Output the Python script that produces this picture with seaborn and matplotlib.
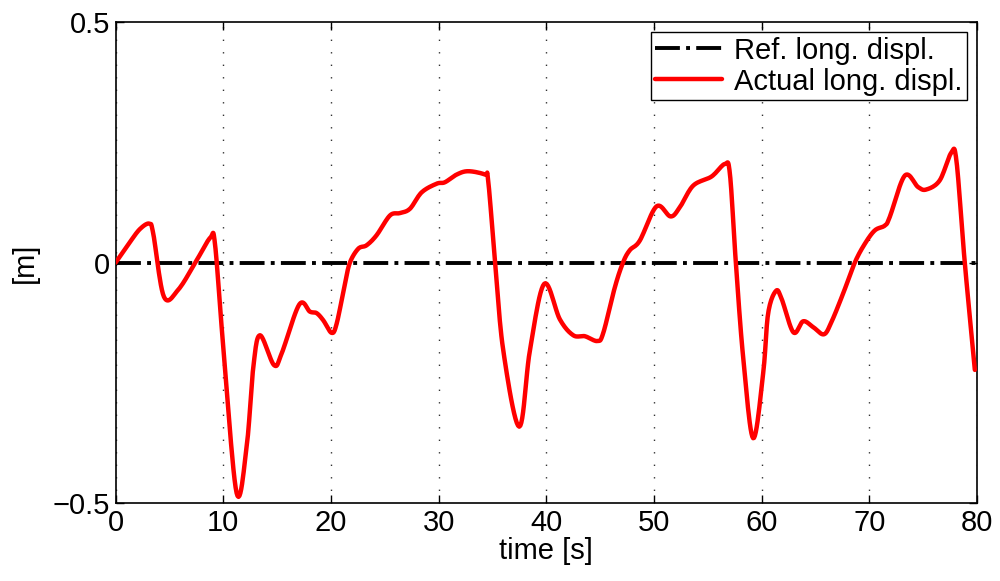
import numpy as np
import pandas as pd
import matplotlib
matplotlib.use("Agg")
import matplotlib.pyplot as plt
import seaborn as sns

# Data
time_s = [0.0, 1.34, 2.27, 3.13, 3.5, 4.49, 5.83, 7.53, 8.8, 9.23, 10.0, 11.24, 12.17,
          12.79, 13.41, 14.71, 15.42, 17.06, 18.05, 18.67, 19.29, 20.06, 20.53, 21.3,
          21.76, 22.54, 23.31, 24.24, 25.48, 26.41, 27.34, 28.42, 29.81, 30.58, 31.67,
          32.75, 34.3, 34.6, 35.23, 36.0, 37.49, 38.48, 39.81, 41.26, 42.5, 43.58,
          44.73, 45.28, 46.37, 47.14, 47.76, 48.69, 50.24, 51.54, 52.4, 53.64, 55.35,
          56.58, 57.05, 57.6, 58.28, 59.21, 60.14, 60.6, 61.32, 61.85, 62.95, 63.85,
          64.78, 65.78, 66.49, 67.57, 68.65, 69.58, 70.51, 71.44, 71.9, 73.3, 74.53,
          75.3, 76.54, 77.6, 78.09, 78.86, 79.8]
actual_disp = [0.0, 0.043, 0.07, 0.081, 0.06, -0.071, -0.056, 0.005, 0.052, 0.039, -0.175,
               -0.479, -0.383, -0.217, -0.151, -0.213, -0.189, -0.087, -0.102, -0.105,
               -0.12, -0.146, -0.127, -0.044, 0.0, 0.029, 0.036, 0.057, 0.098, 0.103,
               0.112, 0.146, 0.164, 0.167, 0.183, 0.19, 0.183, 0.171, 0.005, -0.182,
               -0.341, -0.182, -0.044, -0.118, -0.151, -0.153, -0.163, -0.147, -0.051,
               0.001, 0.026, 0.046, 0.117, 0.096, 0.115, 0.16, 0.179, 0.205, 0.185,
               0.001, -0.196, -0.365, -0.23, -0.106, -0.059, -0.075, -0.145, -0.122,
               -0.134, -0.149, -0.123, -0.064, 0.0, 0.039, 0.067, 0.077, 0.095, 0.181,
               0.157, 0.152, 0.171, 0.228, 0.212, 0.001, -0.223]
ref_time = [0.0, 80.0]
ref_disp = [0.0, 0.0]
x_ticks = [0, 10, 20, 30, 40, 50, 60, 70, 80]
y_ticks = [-0.5, 0, 0.5]

sns.set_style("ticks")
plt.rcParams['font.family'] = ['Liberation Sans', 'DejaVu Sans']
plt.rcParams['axes.unicode_minus'] = True
plt.rcParams['text.color'] = 'black'
plt.rcParams['axes.labelcolor'] = 'black'
plt.rcParams['xtick.color'] = 'black'
plt.rcParams['ytick.color'] = 'black'

fig = plt.figure(figsize=(10, 5.81), dpi=100)
ax = fig.add_axes([0.1156, 0.134, 0.8614, 0.828])

t = np.array(time_s)
v = np.array(actual_disp)

# Catmull-Rom spline for a smooth curve through the read points
def catmull(t, v, n=12):
    P = np.column_stack([t, v])
    P = np.vstack([P[0], P, P[-1]])
    out = []
    for i in range(1, len(P) - 2):
        p0, p1, p2, p3 = P[i - 1], P[i], P[i + 1], P[i + 2]
        for s in np.linspace(0, 1, n, endpoint=False):
            s2, s3 = s * s, s * s * s
            pt = 0.5 * ((2 * p1) + (-p0 + p2) * s + (2 * p0 - 5 * p1 + 4 * p2 - p3) * s2
                        + (-p0 + 3 * p1 - 3 * p2 + p3) * s3)
            out.append(pt)
    out.append(P[-2])
    out = np.array(out)
    return out[:, 0], out[:, 1]

ts, vs = catmull(t, v)
df_act = pd.DataFrame({"time": ts, "disp": vs})
df_ref = pd.DataFrame({"time": ref_time, "disp": ref_disp})

sns.lineplot(data=df_ref, x="time", y="disp", ax=ax, color="black", linestyle="-.",
             linewidth=2.8, label="Ref. long. displ.", sort=False, zorder=3)
sns.lineplot(data=df_act, x="time", y="disp", ax=ax, color="#ff0000", linewidth=3.2,
             label="Actual long. displ.", sort=False, zorder=4)

ax.set_xlim(0, 80)
ax.set_ylim(-0.5, 0.5)
ax.set_xticks(x_ticks)
ax.set_yticks(y_ticks)
ax.set_yticklabels(["\u22120.5", "0", "0.5"])
ax.xaxis.grid(True, linestyle=(0, (1, 8)), color="#333333", linewidth=1.0)
ax.yaxis.grid(False)
ax.tick_params(direction="in", top=True, right=True, labelsize=21, length=6, width=1,
               pad=4, colors="black")
for sp in ax.spines.values():
    sp.set_visible(True)
    sp.set_linewidth(1.2)
    sp.set_color("black")
ax.set_xlabel("time [s]", fontsize=21, labelpad=0, color="black")
ax.set_ylabel("[m]", fontsize=21, labelpad=10, color="black")

leg = ax.legend(loc="upper right", fontsize=21, frameon=True, fancybox=False,
                edgecolor="black", framealpha=1, borderaxespad=0.35,
                handlelength=2.3, handletextpad=0.4, borderpad=0.15, labelspacing=0.1)
leg.get_frame().set_linewidth(1.0)
for txt in leg.get_texts():
    txt.set_color("black")

fig.savefig("out.png", dpi=100)
